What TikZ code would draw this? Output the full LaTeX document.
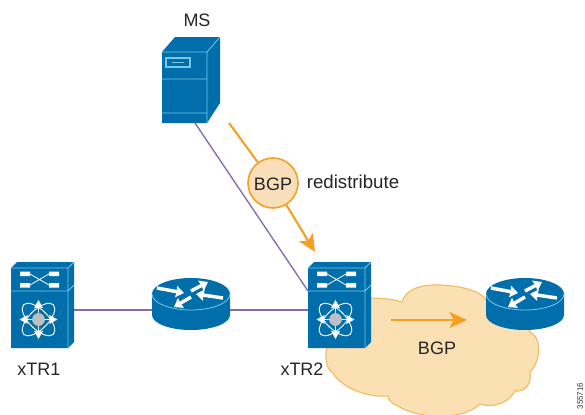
\documentclass[tikz,border=0pt]{standalone}
\usepackage{fontspec}
\setmainfont{Liberation Sans}
\usetikzlibrary{arrows.meta}
\definecolor{ciscoblue}{RGB}{0,110,170}
\definecolor{ciscolight}{RGB}{120,200,235}
\definecolor{linkpurple}{RGB}{135,105,175}
\definecolor{flow}{RGB}{243,160,35}
\definecolor{cloudfill}{RGB}{251,224,180}
\definecolor{cloudedge}{RGB}{243,185,90}
\definecolor{bubble}{RGB}{248,222,185}
\tikzset{
 sharrow/.style={draw=white,line width=1.1pt,-{Stealth[length=6pt,width=6.5pt,inset=0.5pt]}},
 wharrow/.style={draw=white,line width=2.6pt,-{Stealth[length=6pt,width=8.5pt,inset=0.5pt]}},
 label/.style={font=\fontsize{13.5}{15}\selectfont,text=black!85,inner sep=0pt},
 link/.style={draw=linkpurple,line width=1pt},
 flowline/.style={draw=flow,line width=1.6pt},
 flowarrow/.style={flowline,-{Stealth[length=13pt,width=12pt,inset=3pt]}},
}
\newcommand{\switchicon}[1]{%
 \begin{scope}[shift={(#1)}]
  \fill[ciscoblue] (11,268) -- (17,262) -- (74,262) -- (74,342) -- (68,348) -- (11,348) -- cycle;
  \draw[ciscolight,line width=0.6pt] (11,268) -- (68,268) -- (74,262) (68,268) -- (68,348) (11,291) -- (68,291) -- (74,285);
  \fill[white] (20,271.5) rectangle (30,276) (49,271.5) rectangle (59,276) (20,283) rectangle (30,287.5) (49,283) rectangle (59,287.5);
  \draw[white,line width=0.6pt] (30,274) -- (49,285) (30,285) -- (49,274);
  \draw[white,line width=0.7pt,rotate around={45:(38.5,319.5)}] (38.5,319.5) ellipse (21 and 9.5);
  \draw[white,line width=0.7pt,rotate around={-45:(38.5,319.5)}] (38.5,319.5) ellipse (21 and 9.5);
  \fill[black!25] (38.5,319.5) circle (6.4);
  \draw[sharrow] (38.5,313) -- (38.5,300);
  \draw[sharrow] (38.5,326) -- (38.5,339);
  \draw[sharrow] (32,319.5) -- (19.5,319.5);
  \draw[sharrow] (45,319.5) -- (57.5,319.5);
 \end{scope}}
\newcommand{\routericon}[1]{%
 \begin{scope}[shift={(#1)}]
  \fill[ciscoblue] (152,294) -- (152,315) arc[start angle=180,end angle=0,x radius=39,y radius=15] -- (230,294) arc[start angle=0,end angle=-180,x radius=39,y radius=16] -- cycle;
  \draw[ciscolight,line width=0.6pt] (152,294) arc[start angle=180,end angle=0,x radius=39,y radius=16];
  \draw[wharrow] (157,288) -- (184,293);
  \draw[wharrow] (223,298) -- (196,294);
  \draw[wharrow] (191,291) -- (208,282);
  \draw[wharrow] (191,297) -- (174,307);
 \end{scope}}
\begin{document}
\begin{tikzpicture}[x=0.75pt,y=-0.75pt]
\useasboundingbox (0,0) rectangle (585,414);
\fill[white] (0,0) rectangle (585,414);
% cloud
\draw[fill=cloudfill,draw=cloudedge,line width=0.8pt]
 (360,298) .. controls (375,298) and (390,298) .. (402,302)
 .. controls (405,290) and (420,284) .. (440,285)
 .. controls (462,286) and (478,290) .. (487,300)
 .. controls (500,300) and (520,318) .. (530,332)
 .. controls (541,336) and (542,360) .. (530,372)
 .. controls (532,384) and (525,392) .. (515,391)
 .. controls (508,404) and (492,408) .. (480,404)
 .. controls (465,420) and (420,420) .. (398,406)
 .. controls (392,404) and (388,400) .. (388,396)
 .. controls (365,398) and (340,386) .. (333,373)
 .. controls (324,368) and (324,350) .. (330,340)
 -- cycle;
% named anchors of the connectors
\coordinate (ms) at (195,123);
\coordinate (xtr2nw) at (308,291);
\coordinate (xtr1e) at (74,310);
\coordinate (r1w) at (152,310);
\coordinate (r1e) at (230,310);
\coordinate (xtr2w) at (308,310);
\coordinate (flowa) at (229,123);
\coordinate (flowb) at (315,252);
\coordinate (flowc) at (391,320);
\coordinate (flowd) at (467,320);
\draw[link] (ms) -- (xtr2nw);
\draw[link] (xtr1e) -- (r1w);
\draw[link] (r1e) -- (xtr2w);
% icons
\switchicon{0,0}
\switchicon{297,0}
\routericon{0,0}
\routericon{334,0}
% server
\fill[ciscoblue] (162,52) -- (175,37) -- (220,37) -- (220,103) -- (207,123) -- (162,123) -- cycle;
\draw[ciscolight,line width=0.6pt] (162,52) -- (207,52) -- (220,37) (207,52) -- (207,123) (162,79) -- (207,79) (162,113) -- (207,113);
\draw[ciscolight,line width=0.8pt] (166,58) rectangle (190,67);
\draw[ciscolight,line width=0.7pt] (172,62.5) -- (184,62.5);
% flows
\node[circle,fill=bubble,draw=flow,line width=1.2pt,minimum size=37.5pt,inner sep=0pt] (bgpc) at (273,183) {};
\draw[flowline] (flowa) -- (bgpc);
\draw[flowarrow] (bgpc) -- (flowb);
\draw[flowarrow] (flowc) -- (flowd);
\node[label] (bgpt) at (273,184) {BGP};
% labels
\node[label] (mslab) at (197,20) {MS};
\node[label,font=\fontsize{14}{16}\selectfont] (redis) at (353,182) {redistribute};
\node[label] (x1lab) at (39,369) {xTR1};
\node[label] (x2lab) at (302,369) {xTR2};
\node[label] (bgplab) at (437,348) {BGP};
\node[inner sep=0pt,rotate=90,font=\fontsize{6}{7}\selectfont,text=black!80] (fig) at (580,396) {355716};
\end{tikzpicture}
\end{document}
